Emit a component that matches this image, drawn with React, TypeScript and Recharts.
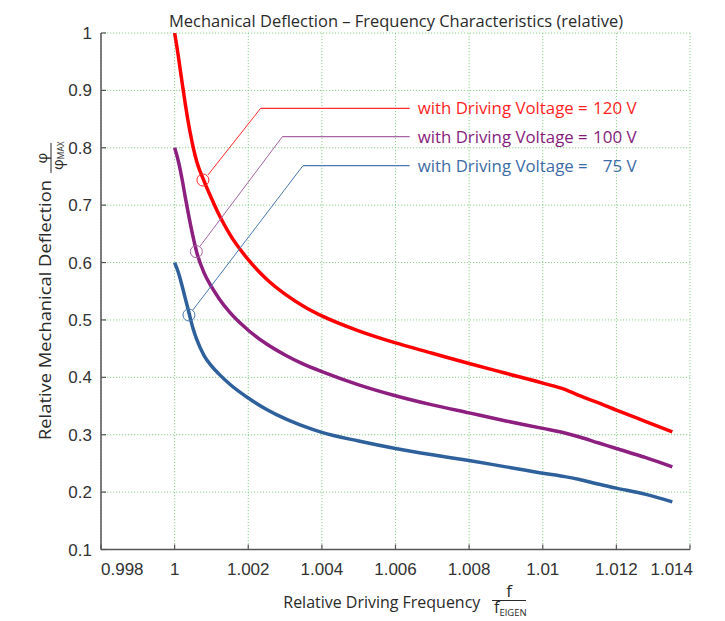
import React from 'react'
import {
  LineChart, Line, XAxis, YAxis, CartesianGrid,
  ReferenceLine, ReferenceDot,
} from 'recharts'

// relative driving frequency f / f_EIGEN
const FREQ = [
  1.0, 1.0001, 1.0002, 1.0003, 1.0004, 1.0005, 1.0006, 1.0008, 1.001, 1.0012,
  1.0015, 1.002, 1.0025, 1.003, 1.0035, 1.004, 1.005, 1.006, 1.007, 1.008,
  1.009, 1.01, 1.0106, 1.011, 1.0115, 1.012, 1.0128, 1.01352,
]

// relative deflection for each driving voltage
const V120 = [
  1.0, 0.96, 0.915, 0.872, 0.834, 0.802, 0.776, 0.742, 0.712, 0.684,
  0.649, 0.605, 0.571, 0.545, 0.524, 0.507, 0.481, 0.46, 0.442, 0.424,
  0.407, 0.39, 0.379, 0.368, 0.356, 0.343, 0.323, 0.305,
]
const V100 = [
  0.8, 0.777, 0.746, 0.71, 0.676, 0.645, 0.618, 0.582, 0.558, 0.538,
  0.513, 0.482, 0.458, 0.439, 0.423, 0.41, 0.387, 0.368, 0.352, 0.338,
  0.324, 0.311, 0.303, 0.296, 0.286, 0.276, 0.26, 0.244,
]
const V75 = [
  0.6, 0.583, 0.56, 0.535, 0.51, 0.485, 0.466, 0.438, 0.42, 0.406,
  0.388, 0.364, 0.344, 0.328, 0.315, 0.304, 0.289, 0.276, 0.265, 0.255,
  0.244, 0.233, 0.227, 0.222, 0.214, 0.207, 0.196, 0.183,
]

const X_TICKS = [0.998, 1, 1.002, 1.004, 1.006, 1.008, 1.01, 1.012, 1.014]
const Y_TICKS = [0.1, 0.2, 0.3, 0.4, 0.5, 0.6, 0.7, 0.8, 0.9, 1]

// annotation callouts: 120 V, 100 V, 75 V
const VOLTS = ['120', '100', '75']
const MARK_F = [1.000769, 1.00059, 1.000389]
const MARK_V = [0.7438, 0.619, 0.5086]
const LEAD_F = [1.000905, 1.00068, 1.000497]
const LEAD_V = [0.7526, 0.6276, 0.5174]
const ELBOW_F = [1.002337, 1.002927, 1.003486]
const ELBOW_V = [0.8688, 0.8193, 0.7688]
const CALLOUT_END_F = 1.006386

const COLORS = {
  v120: '#ff0000',
  v100: '#8c1f7f',
  v75: '#2e609c',
  lead: ['#ff2a2a', '#a865a4', '#4a78b0'],
  text: ['#ff1f1f', '#861d7d', '#3d6ca6'],
  grid: '#8fcf8f',
  frame: '#555',
  ink: '#2a2a2a',
}

const data = FREQ.map((f, i) => ({ f, v120: V120[i], v100: V100[i], v75: V75[i] }))

const tickFont = { fontFamily: '"Liberation Sans", Arial, sans-serif', fontSize: 17, fill: '#333' }
const labelFont = '"Open Sans", "Noto Sans", sans-serif'

function BottomTick(props: any) {
  const { x, y, payload, index } = props
  const last = index === X_TICKS.length - 1
  const anchor = index === 0 ? 'start' : last ? 'end' : 'middle'
  return (
    <g>
      <line x1={x} y1={y} x2={x} y2={y - 5} stroke={COLORS.frame} strokeWidth={1.2} />
      <text x={last ? x + 3 : x} y={y + 25.5} textAnchor={anchor} {...tickFont}>{String(payload.value)}</text>
    </g>
  )
}

function LeftTick(props: any) {
  const { x, y, payload } = props
  return (
    <g>
      <line x1={x} y1={y} x2={x + 5} y2={y} stroke={COLORS.frame} strokeWidth={1.2} />
      <text x={x - 9} y={y + 6} textAnchor="end" {...tickFont}>{String(payload.value)}</text>
    </g>
  )
}

function TopTick(props: any) {
  const { x, y } = props
  return <line x1={x} y1={y} x2={x} y2={y + 5} stroke={COLORS.frame} strokeWidth={1.2} />
}

function RightTick(props: any) {
  const { x, y } = props
  return <line x1={x} y1={y} x2={x - 5} y2={y} stroke={COLORS.frame} strokeWidth={1.2} />
}

function VoltLabel(props: any) {
  const { viewBox, color, volts } = props
  const x = viewBox.x + 8
  const y = viewBox.y + 6
  return (
    <g>
      <text x={x} y={y} fill={color} fontFamily={labelFont} fontSize={17}
        textLength={170} lengthAdjust="spacingAndGlyphs">with Driving Voltage =</text>
      <text x={x + 219} y={y} fill={color} fontFamily={labelFont} fontSize={17} textAnchor="end">{volts} V</text>
    </g>
  )
}

export default function App() {
  return (
    <div style={{ position: 'absolute', left: 0, top: 0, width: 725, height: 621, background: '#fff' }}>
      <LineChart width={725} height={621} data={data} margin={{ top: 33, right: 35, bottom: 41.5, left: 41 }}>
        <CartesianGrid stroke={COLORS.grid} strokeDasharray="1.2 1.8" strokeWidth={1} />
        <XAxis
          dataKey="f" type="number" domain={[0.998, 1.014]} ticks={X_TICKS} interval={0}
          allowDataOverflow height={30} tickSize={0} tickMargin={0} tickLine={false}
          axisLine={{ stroke: COLORS.frame, strokeWidth: 1.5 }} tick={<BottomTick />}
        />
        <XAxis
          xAxisId="top" orientation="top" type="number" domain={[0.998, 1.014]} ticks={X_TICKS} interval={0}
          allowDataOverflow height={0} tickSize={0} tickMargin={0} tickLine={false}
          axisLine={{ stroke: COLORS.frame, strokeWidth: 1.5 }} tick={<TopTick />}
        />
        <YAxis
          type="number" domain={[0.1, 1]} ticks={Y_TICKS} interval={0} allowDataOverflow
          width={60} tickSize={0} tickMargin={0} tickLine={false}
          axisLine={{ stroke: COLORS.frame, strokeWidth: 1.5 }} tick={<LeftTick />}
        />
        <YAxis
          yAxisId="right" orientation="right" type="number" domain={[0.1, 1]} ticks={Y_TICKS} interval={0}
          allowDataOverflow width={0} tickSize={0} tickMargin={0} tickLine={false}
          axisLine={{ stroke: COLORS.frame, strokeWidth: 1.5 }} tick={<RightTick />}
        />

        <Line type="monotone" dataKey="v120" stroke={COLORS.v120} strokeWidth={3.5} dot={false} isAnimationActive={false} />
        <Line type="monotone" dataKey="v100" stroke={COLORS.v100} strokeWidth={3.5} dot={false} isAnimationActive={false} />
        <Line type="monotone" dataKey="v75" stroke={COLORS.v75} strokeWidth={3.5} dot={false} isAnimationActive={false} />

        {VOLTS.map((v, i) => (
          <ReferenceLine key={`lead-${v}`} segment={[{ x: LEAD_F[i], y: LEAD_V[i] }, { x: ELBOW_F[i], y: ELBOW_V[i] }]}
            stroke={COLORS.lead[i]} strokeWidth={1} />
        ))}
        {VOLTS.map((v, i) => (
          <ReferenceLine key={`arm-${v}`} segment={[{ x: ELBOW_F[i], y: ELBOW_V[i] }, { x: CALLOUT_END_F, y: ELBOW_V[i] }]}
            stroke={COLORS.lead[i]} strokeWidth={1.2} />
        ))}
        {VOLTS.map((v, i) => (
          <ReferenceDot key={`mark-${v}`} x={MARK_F[i]} y={MARK_V[i]} r={6}
            fill="none" stroke={COLORS.lead[i]} strokeWidth={1} />
        ))}
        {VOLTS.map((v, i) => (
          <ReferenceDot key={`txt-${v}`} x={CALLOUT_END_F} y={ELBOW_V[i]} r={0} fill="none" stroke="none"
            label={<VoltLabel color={COLORS.text[i]} volts={v} />} />
        ))}
      </LineChart>

      {/* titles and axis captions */}
      <svg width={725} height={621} style={{ position: 'absolute', left: 0, top: 0, pointerEvents: 'none' }}>
        <text x={169} y={27} fill={COLORS.ink} fontFamily={labelFont} fontSize={17}
          textLength={454} lengthAdjust="spacingAndGlyphs">
          Mechanical Deflection – Frequency Characteristics (relative)
        </text>

        <text x={283.3} y={608} fill={COLORS.ink} fontFamily={labelFont} fontSize={17}
          textLength={197} lengthAdjust="spacingAndGlyphs">Relative Driving Frequency</text>
        <line x1={492} y1={600.5} x2={526} y2={600.5} stroke={COLORS.ink} strokeWidth={1} />
        <text x={509} y={597} textAnchor="middle" fill={COLORS.ink} fontFamily={labelFont} fontSize={17}>f</text>
        <text x={494} y={613} fill={COLORS.ink} fontFamily={labelFont} fontSize={16}>
          f<tspan fontSize={9.5} dy={3}>EIGEN</tspan>
        </text>

        <g transform="translate(51,440) rotate(-90)">
          <text x={0} y={0} fill={COLORS.ink} fontFamily={labelFont} fontSize={17}
            textLength={260} lengthAdjust="spacingAndGlyphs">Relative Mechanical Deflection</text>
          <line x1={267} y1={0} x2={297} y2={0} stroke={COLORS.ink} strokeWidth={1} />
          <text x={282} y={-4.5} textAnchor="middle" fill={COLORS.ink} fontFamily={labelFont} fontSize={15}>φ</text>
          <text x={270} y={11.5} fill={COLORS.ink} fontFamily={labelFont} fontSize={15}>
            φ<tspan fontSize={8.5} dy={1}>MAX</tspan>
          </text>
        </g>
      </svg>
    </div>
  )
}
